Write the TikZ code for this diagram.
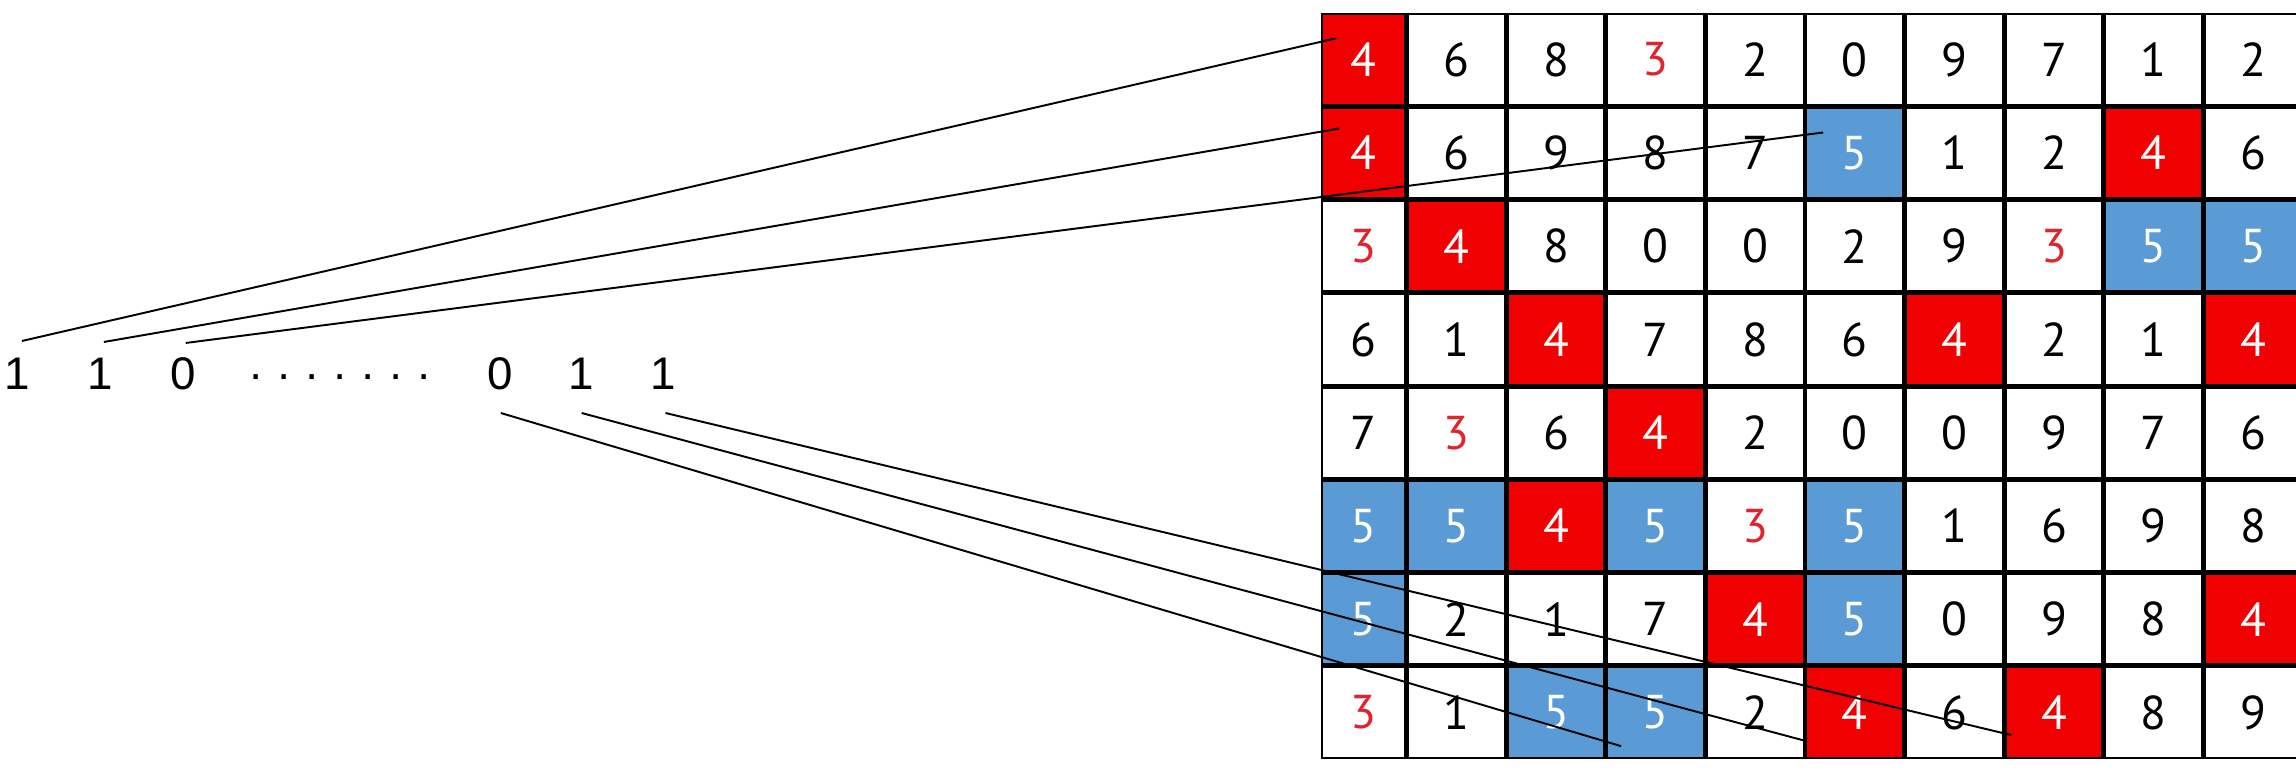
\documentclass[tikz,border=0pt]{standalone}
\usepackage{fontspec}
\setmainfont{Liberation Sans}
\newfontfamily\gridfont{PT Sans}
\usepackage{tikz}
\usetikzlibrary{matrix, positioning}
\definecolor{cellred}{RGB}{240,0,0}
\definecolor{cellblue}{RGB}{91,155,213}
\definecolor{digitred}{RGB}{225,35,45}
\tikzset{
  cell/.style={draw, line width=0.7pt, minimum width=0.971cm,
    minimum height=0.9075cm, inner sep=0pt, outer sep=0pt, anchor=center,
    font=\gridfont\fontsize{13.5}{16}\selectfont},
  redcell/.style={fill=cellred, text=white},
  bluecell/.style={fill=cellblue, text=white},
  redtext/.style={text=digitred},
  bit/.style={inner sep=0pt, text height=9.3pt, text depth=0pt,
    font=\fontsize{13}{15}\selectfont},
  link/.style={line width=0.55pt, black},
}

\begin{document}
\begin{tikzpicture}[x=0.01cm, y=-0.01cm]
  \fill[white] (0,0) rectangle (2296,771);
  \useasboundingbox (0,0) rectangle (2296,771);

  % Bit string
  \node[bit]                         (b1)   at (17,373) {1};
  \node[bit, right=0.56cm of b1]     (b2)   {1};
  \node[bit, right=0.56cm of b2]     (b3)   {0};
  \node[bit, right=0.52cm of b3]     (dots) {· · · · · · ·};
  \node[bit, right=0.54cm of dots]   (b4)   {0};
  \node[bit, right=0.55cm of b4]     (b5)   {1};
  \node[bit, right=0.55cm of b5]     (b6)   {1};

  % Grid
  \matrix (m) [matrix of nodes, nodes={cell}, column sep=0pt, row sep=0pt,
               inner sep=0pt, outer sep=0pt, anchor=north west,
               column 1/.style={nodes={minimum width=0.83cm}}] at (1321,13) {
    |[redcell]| 4 & 6 & 8 & |[redtext]| 3 & 2 & 0 & 9 & 7 & 1 & 2 \\
    |[redcell]| 4 & 6 & 9 & 8 & 7 & |[bluecell]| 5 & 1 & 2 & |[redcell]| 4 & 6 \\
    |[redtext]| 3 & |[redcell]| 4 & 8 & 0 & 0 & 2 & 9 & |[redtext]| 3 & |[bluecell]| 5 & |[bluecell]| 5 \\
    6 & 1 & |[redcell]| 4 & 7 & 8 & 6 & |[redcell]| 4 & 2 & 1 & |[redcell]| 4 \\
    7 & |[redtext]| 3 & 6 & |[redcell]| 4 & 2 & 0 & 0 & 9 & 7 & 6 \\
    |[bluecell]| 5 & |[bluecell]| 5 & |[redcell]| 4 & |[bluecell]| 5 & |[redtext]| 3 & |[bluecell]| 5 & 1 & 6 & 9 & 8 \\
    |[bluecell]| 5 & 2 & 1 & 7 & |[redcell]| 4 & |[bluecell]| 5 & 0 & 9 & 8 & |[redcell]| 4 \\
    |[redtext]| 3 & 1 & |[bluecell]| 5 & |[bluecell]| 5 & 2 & |[redcell]| 4 & 6 & |[redcell]| 4 & 8 & 9 \\
  };

  % Links
  \draw[link] ([shift={(0.05cm,0.32cm)}]b1.center) -- ([shift={(0.14cm,-0.24cm)}]m-1-1.north west);
  \draw[link] ([shift={(0.04cm,0.31cm)}]b2.center) -- ([shift={(0.17cm,-0.21cm)}]m-2-1.north west);
  \draw[link] ([shift={(0.03cm,0.30cm)}]b3.center) -- ([shift={(0.17cm,-0.25cm)}]m-2-6.north west);
  \draw[link] ([shift={(0.01cm,-0.40cm)}]b4.center) -- ([shift={(0.14cm,-0.79cm)}]m-8-4.north west);
  \draw[link] ([shift={(0cm,-0.40cm)}]b5.center) -- ([shift={(0cm,-0.74cm)}]m-8-6.north west);
  \draw[link] ([shift={(0.02cm,-0.40cm)}]b6.center) -- ([shift={(0.06cm,-0.68cm)}]m-8-8.north west);
\end{tikzpicture}
\end{document}
